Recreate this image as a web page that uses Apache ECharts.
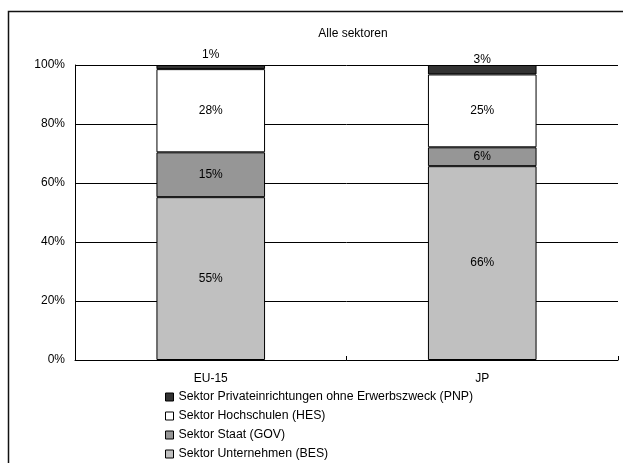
<!DOCTYPE html>
<html>
<head>
<meta charset="utf-8">
<script src="https://cdn.jsdelivr.net/npm/echarts@6/dist/echarts.min.js"></script>
<style>
  html, body { margin: 0; padding: 0; background: #fff; }
  #chart { width: 623px; height: 463px; }
</style>
</head>
<body>
<div id="chart"></div>
<script>
// Regions and the share of R&D spending per sector (percent of total)
const regions = ['EU-15', 'JP'];
const yTicks = [0, 20, 40, 60, 80, 100];

const besShare = [55.2, 65.7];   // Sektor Unternehmen (BES)
const govShare = [15.2, 6.4];    // Sektor Staat (GOV)
const hesShare = [28.2, 24.7];   // Sektor Hochschulen (HES)
const pnpShare = [1.4, 3.2];     // Sektor Privateinrichtungen ohne Erwerbszweck (PNP)

const names = {
  bes: 'Sektor Unternehmen (BES)',
  gov: 'Sektor Staat (GOV)',
  hes: 'Sektor Hochschulen (HES)',
  pnp: 'Sektor Privateinrichtungen ohne Erwerbszweck (PNP)'
};

const FONT = '"Liberation Sans", Arial, sans-serif';
const pct = p => Math.round(p.value) + '%';

function segment(name, values, color, label) {
  return {
    name: name,
    type: 'bar',
    stack: 'total',
    barWidth: '40%',
    data: values,
    itemStyle: { color: color, borderColor: '#000', borderWidth: 1 },
    label: Object.assign({
      show: true,
      position: 'inside',
      color: '#000',
      fontFamily: FONT,
      fontSize: 12,
      formatter: pct
    }, label || {})
  };
}

const chart = echarts.init(document.getElementById('chart'), null, { renderer: 'canvas' });

// small top segment: label sits above the bar
const pnpSeries = segment(names.pnp, pnpShare.map((v, i) => ({
  value: v,
  label: { distance: i === 0 ? 4 : -1 }
})), '#333333', { position: 'top' });

chart.setOption({
  animation: false,
  backgroundColor: '#fff',
  title: {
    text: 'Alle sektoren',
    left: 348,
    top: 23,
    textAlign: 'center',
    textStyle: { fontFamily: FONT, fontSize: 12, fontWeight: 'normal', color: '#000' }
  },
  graphic: [{
    type: 'rect',
    shape: { x: 8.5, y: 11.5, width: 700, height: 600 },
    style: { fill: 'none', stroke: '#111', lineWidth: 1.5 },
    silent: true
  }],
  legend: {
    orient: 'vertical',
    left: 165,
    top: 390,
    padding: 0,
    height: 80,
    itemWidth: 8,
    itemHeight: 8,
    itemGap: 5,
    icon: 'rect',
    data: [names.pnp, names.hes, names.gov, names.bes],
    itemStyle: { borderColor: '#000', borderWidth: 1 },
    textStyle: { fontFamily: FONT, fontSize: 12.3, lineHeight: 14, color: '#000' }
  },
  grid: { left: 75, right: 5, top: 65, bottom: 103, containLabel: false },
  xAxis: {
    type: 'category',
    data: regions,
    axisLine: { lineStyle: { color: '#000', width: 1 } },
    axisTick: { show: true, inside: true, length: 4, lineStyle: { color: '#000' } },
    axisLabel: { color: '#000', fontFamily: FONT, fontSize: 12, margin: 13 }
  },
  yAxis: {
    type: 'value',
    min: yTicks[0],
    max: yTicks[yTicks.length - 1],
    interval: yTicks[1] - yTicks[0],
    axisLine: { show: true, lineStyle: { color: '#000', width: 1 } },
    axisTick: { show: false },
    axisLabel: { color: '#000', fontFamily: FONT, fontSize: 12, margin: 10, formatter: '{value}%' },
    splitLine: { show: true, lineStyle: { color: '#000', width: 1 } }
  },
  series: [
    segment(names.bes, besShare, '#c0c0c0'),
    segment(names.gov, govShare, '#969696'),
    segment(names.hes, hesShare, '#ffffff'),
    pnpSeries
  ]
});
</script>
</body>
</html>
